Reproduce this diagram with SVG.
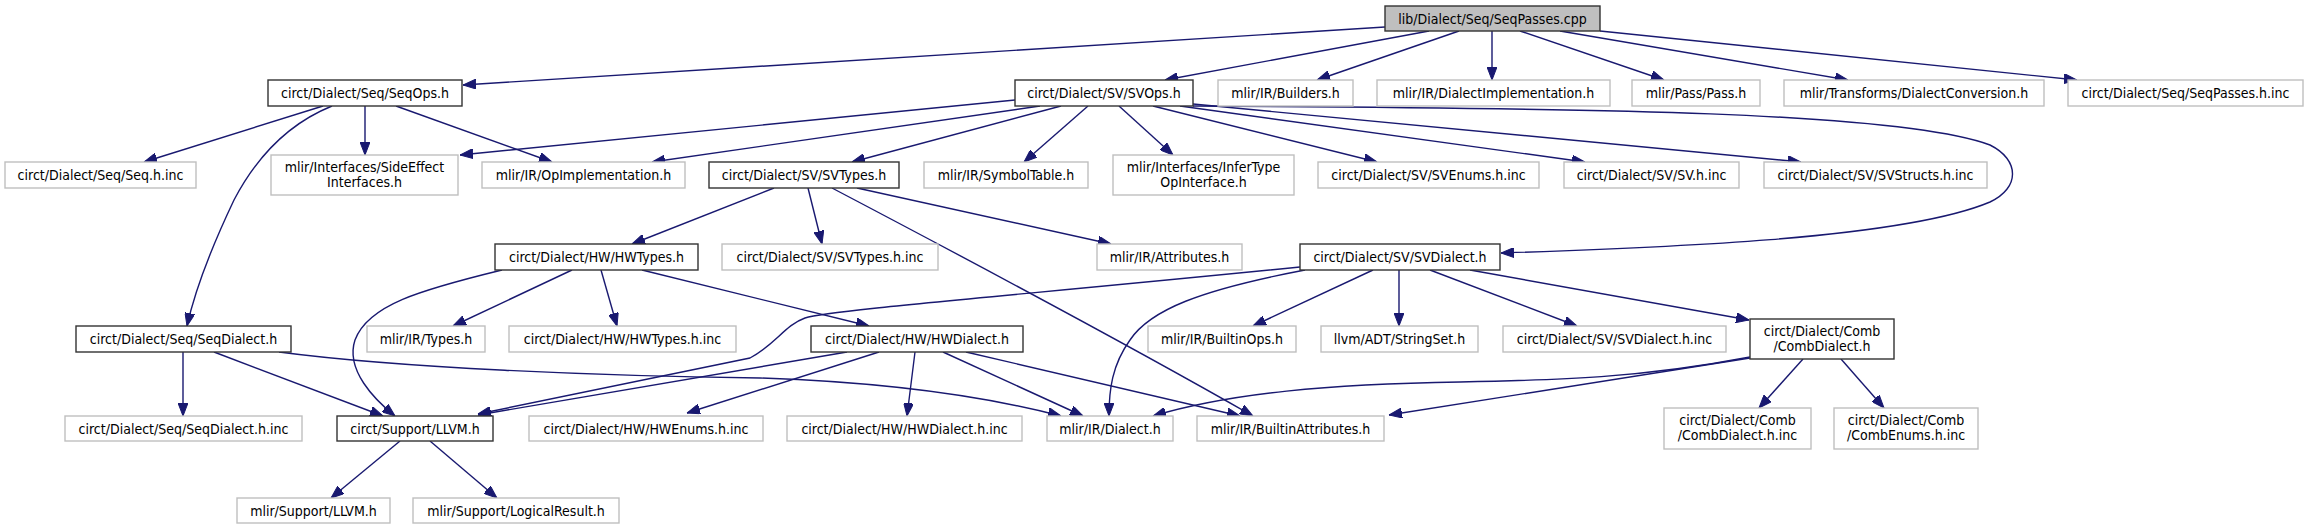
<svg xmlns="http://www.w3.org/2000/svg" width="2306" height="529" viewBox="0 0 2306 529">
<style>
text{font-family:"DejaVu Sans Condensed","DejaVu Sans","Liberation Sans",sans-serif;font-stretch:condensed;font-size:14px;fill:#000;text-anchor:middle}
.d rect{fill:#fff;stroke:#333;stroke-width:1.4}
.u rect{fill:#fff;stroke:#bfbfbf;stroke-width:1.4}
.r rect{fill:#bfbfbf;stroke:#333;stroke-width:1.4}
#edges path{fill:none;stroke:#191970;stroke-width:1.4;marker-end:url(#ah)}
</style>
<defs>
<marker id="ah" viewBox="0 0 13 10" refX="13" refY="5" markerWidth="13" markerHeight="10" markerUnits="userSpaceOnUse" orient="auto">
<path d="M0,0 L13,5 L0,10 z" fill="#191970" stroke="#191970" stroke-width="1"/>
</marker>
</defs>
<rect width="2306" height="529" fill="#fff"/>
<g id="edges">
<path d="M1385,27 L463,85"/>
<path d="M1429,31 L1165,80"/>
<path d="M1459,31 L1317,80"/>
<path d="M1492,31 L1492,80"/>
<path d="M1520,31 L1664,80"/>
<path d="M1560,31 L1848,80"/>
<path d="M1600,31 L2077,80"/>
<path d="M323,106 L144,162"/>
<path d="M365,106 L365,155"/>
<path d="M396,106 L552,162"/>
<path d="M332,106 C285,125 255,160 234,200 C215,240 195,290 187,326"/>
<path d="M1015,100 L460,155"/>
<path d="M1040,106 L652,162"/>
<path d="M1061,106 L852,162"/>
<path d="M1088,106 L1024,162"/>
<path d="M1119,106 L1173,155"/>
<path d="M1153,106 L1377,162"/>
<path d="M1180,106 L1585,162"/>
<path d="M1193,104 L1801,162"/>
<path d="M1193,106 C1600,108 1900,112 1990,145 C2020,160 2020,188 1990,202 C1900,240 1650,248 1501,253"/>
<path d="M774,188 L632,244"/>
<path d="M808,188 L822,244"/>
<path d="M857,188 L1111,244"/>
<path d="M832,188 C950,250 1120,340 1253,416"/>
<path d="M502,270 C420,290 368,305 355,340 C345,370 375,400 395,416"/>
<path d="M572,270 L453,326"/>
<path d="M601,270 L617,326"/>
<path d="M642,270 L869,326"/>
<path d="M1300,267 C1000,297 830,310 805,318 C785,325 775,345 750,358 L478,414"/>
<path d="M847,352 L478,415"/>
<path d="M879,352 L687,413"/>
<path d="M915,352 L907,416"/>
<path d="M943,352 L1083,416"/>
<path d="M966,352 L1240,416"/>
<path d="M183,352 L183,416"/>
<path d="M214,352 L383,416"/>
<path d="M279,352 C400,368 600,376 760,378 C880,382 980,395 1061,416"/>
<path d="M400,441 L331,498"/>
<path d="M430,441 L497,498"/>
<path d="M1305,270 C1200,290 1150,310 1130,340 C1112,365 1109,390 1109,416"/>
<path d="M1373,270 L1253,326"/>
<path d="M1399,270 L1399,326"/>
<path d="M1430,270 L1577,326"/>
<path d="M1470,270 L1749,320"/>
<path d="M1750,357 C1640,378 1560,380 1460,382 C1330,384 1230,393 1153,416"/>
<path d="M1750,358 L1389,415"/>
<path d="M1803,359 L1759,408"/>
<path d="M1841,359 L1884,408"/>
</g>
<g id="n_root" class="r"><rect x="1385" y="6" width="215" height="25"/><text x="1492.5" y="23.5">lib/Dialect/Seq/SeqPasses.cpp</text></g>
<g id="n_seqops" class="d"><rect x="268" y="80" width="194" height="26"/><text x="365" y="98">circt/Dialect/Seq/SeqOps.h</text></g>
<g id="n_svops" class="d"><rect x="1015" y="80" width="178" height="26"/><text x="1104" y="98">circt/Dialect/SV/SVOps.h</text></g>
<g id="n_builders" class="u"><rect x="1218" y="80" width="135" height="26"/><text x="1285.5" y="98">mlir/IR/Builders.h</text></g>
<g id="n_dialimpl" class="u"><rect x="1377" y="80" width="233" height="26"/><text x="1493.5" y="98">mlir/IR/DialectImplementation.h</text></g>
<g id="n_pass" class="u"><rect x="1632" y="80" width="128" height="26"/><text x="1696" y="98">mlir/Pass/Pass.h</text></g>
<g id="n_dialconv" class="u"><rect x="1784" y="80" width="260" height="26"/><text x="1914" y="98">mlir/Transforms/DialectConversion.h</text></g>
<g id="n_seqpassesinc" class="u"><rect x="2068" y="80" width="235" height="26"/><text x="2185.5" y="98">circt/Dialect/Seq/SeqPasses.h.inc</text></g>
<g id="n_seqinc" class="u"><rect x="5" y="162" width="191" height="26"/><text x="100.5" y="180">circt/Dialect/Seq/Seq.h.inc</text></g>
<g id="n_sideeffect" class="u"><rect x="271" y="155" width="187" height="40"/><text x="364.5" y="172">mlir/Interfaces/SideEffect</text><text x="364.5" y="187">Interfaces.h</text></g>
<g id="n_opimpl" class="u"><rect x="482" y="162" width="203" height="26"/><text x="583.5" y="180">mlir/IR/OpImplementation.h</text></g>
<g id="n_svtypes" class="d"><rect x="709" y="162" width="190" height="26"/><text x="804" y="180">circt/Dialect/SV/SVTypes.h</text></g>
<g id="n_symtab" class="u"><rect x="924" y="162" width="164" height="26"/><text x="1006" y="180">mlir/IR/SymbolTable.h</text></g>
<g id="n_infertype" class="u"><rect x="1113" y="155" width="181" height="40"/><text x="1203.5" y="172">mlir/Interfaces/InferType</text><text x="1203.5" y="187">OpInterface.h</text></g>
<g id="n_svenums" class="u"><rect x="1318" y="162" width="221" height="26"/><text x="1428.5" y="180">circt/Dialect/SV/SVEnums.h.inc</text></g>
<g id="n_svinc" class="u"><rect x="1564" y="162" width="175" height="26"/><text x="1651.5" y="180">circt/Dialect/SV/SV.h.inc</text></g>
<g id="n_svstructs" class="u"><rect x="1764" y="162" width="223" height="26"/><text x="1875.5" y="180">circt/Dialect/SV/SVStructs.h.inc</text></g>
<g id="n_hwtypes" class="d"><rect x="495" y="244" width="203" height="26"/><text x="596.5" y="262">circt/Dialect/HW/HWTypes.h</text></g>
<g id="n_svtypesinc" class="u"><rect x="722" y="244" width="216" height="26"/><text x="830" y="262">circt/Dialect/SV/SVTypes.h.inc</text></g>
<g id="n_attrs" class="u"><rect x="1097" y="244" width="145" height="26"/><text x="1169.5" y="262">mlir/IR/Attributes.h</text></g>
<g id="n_svdialect" class="d"><rect x="1300" y="244" width="200" height="26"/><text x="1400" y="262">circt/Dialect/SV/SVDialect.h</text></g>
<g id="n_seqdialect" class="d"><rect x="76" y="326" width="215" height="26"/><text x="183.5" y="344">circt/Dialect/Seq/SeqDialect.h</text></g>
<g id="n_types" class="u"><rect x="367" y="326" width="118" height="26"/><text x="426" y="344">mlir/IR/Types.h</text></g>
<g id="n_hwtypesinc" class="u"><rect x="509" y="326" width="227" height="26"/><text x="622.5" y="344">circt/Dialect/HW/HWTypes.h.inc</text></g>
<g id="n_hwdialect" class="d"><rect x="811" y="326" width="212" height="26"/><text x="917" y="344">circt/Dialect/HW/HWDialect.h</text></g>
<g id="n_builtinops" class="u"><rect x="1148" y="326" width="148" height="26"/><text x="1222" y="344">mlir/IR/BuiltinOps.h</text></g>
<g id="n_stringset" class="u"><rect x="1321" y="326" width="157" height="26"/><text x="1399.5" y="344">llvm/ADT/StringSet.h</text></g>
<g id="n_svdialectinc" class="u"><rect x="1503" y="326" width="223" height="26"/><text x="1614.5" y="344">circt/Dialect/SV/SVDialect.h.inc</text></g>
<g id="n_combdialect" class="d"><rect x="1750" y="319" width="144" height="40"/><text x="1822" y="336">circt/Dialect/Comb</text><text x="1822" y="351">/CombDialect.h</text></g>
<g id="n_seqdialectinc" class="u"><rect x="65" y="416" width="237" height="25"/><text x="183.5" y="433.5">circt/Dialect/Seq/SeqDialect.h.inc</text></g>
<g id="n_supportllvm" class="d"><rect x="337" y="416" width="156" height="25"/><text x="415" y="433.5">circt/Support/LLVM.h</text></g>
<g id="n_hwenums" class="u"><rect x="529" y="416" width="234" height="25"/><text x="646" y="433.5">circt/Dialect/HW/HWEnums.h.inc</text></g>
<g id="n_hwdialectinc" class="u"><rect x="787" y="416" width="235" height="25"/><text x="904.5" y="433.5">circt/Dialect/HW/HWDialect.h.inc</text></g>
<g id="n_dialect" class="u"><rect x="1047" y="416" width="126" height="25"/><text x="1110" y="433.5">mlir/IR/Dialect.h</text></g>
<g id="n_builtinattrs" class="u"><rect x="1197" y="416" width="187" height="25"/><text x="1290.5" y="433.5">mlir/IR/BuiltinAttributes.h</text></g>
<g id="n_combdialectinc" class="u"><rect x="1664" y="408" width="147" height="41"/><text x="1737.5" y="425">circt/Dialect/Comb</text><text x="1737.5" y="440">/CombDialect.h.inc</text></g>
<g id="n_combenums" class="u"><rect x="1834" y="408" width="144" height="41"/><text x="1906" y="425">circt/Dialect/Comb</text><text x="1906" y="440">/CombEnums.h.inc</text></g>
<g id="n_mlirllvm" class="u"><rect x="237" y="498" width="153" height="25"/><text x="313.5" y="515.5">mlir/Support/LLVM.h</text></g>
<g id="n_logicalresult" class="u"><rect x="413" y="498" width="206" height="25"/><text x="516" y="515.5">mlir/Support/LogicalResult.h</text></g>
</svg>
